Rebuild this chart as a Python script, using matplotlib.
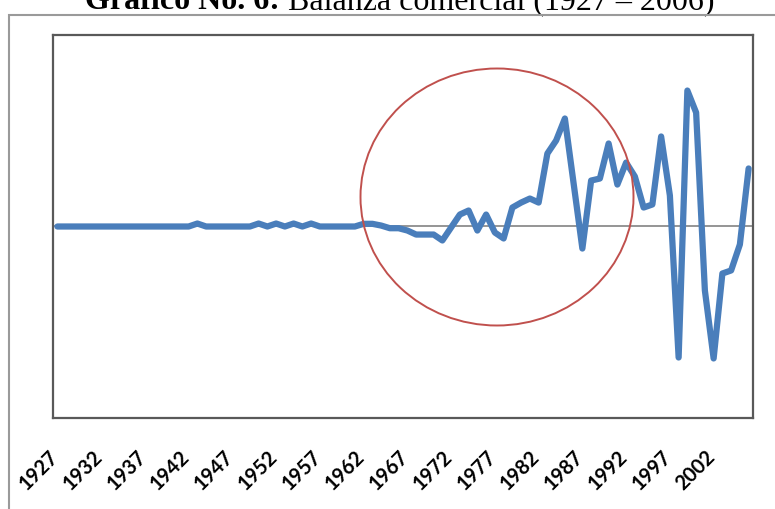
import numpy as np
import matplotlib
matplotlib.use("Agg")
import matplotlib.pyplot as plt
from matplotlib.patches import Ellipse, Rectangle
from matplotlib.transforms import ScaledTranslation

# Balanza comercial, 1927-2006 (millones)
years = list(range(1927, 2007))
balance = [
    0, 0, 0, 0, 0, 0, 0, 0, 0, 0,            # 1927-1936
    0, 0, 0, 0, 0, 0, 31, 0, 0, 0,           # 1937-1946
    0, 0, 0, 31, 0, 31, 0, 31, 0, 31,        # 1947-1956
    0, 0, 0, 0, 0, 28, 28, 10, -18, -18,     # 1957-1966
    -42, -84, -84, -84, -146, -10, 125, 167, -42, 125,   # 1967-1976
    -63, -125, 198, 250, 292, 250, 762, 898, 1128, 449,  # 1977-1986
    -230, 480, 501, 867, 438, 668, 522, 198, 230, 940,   # 1987-1996
    324, -1368, 1420, 1190, -668, -1378, -491, -459, -188, 606,  # 1997-2006
]
tick_years = years[::5]

W, H = 775, 509
fig = plt.figure(figsize=(W / 100, H / 100), dpi=100)
ax = fig.add_axes([53 / W, 1 - 418 / H, 700 / W, 383 / H])

ax.plot(years, balance, color="#4a7ebb", lw=4.5, solid_joinstyle="round",
        solid_capstyle="round", zorder=3)
ax.axhline(0, color="#8c8c8c", lw=1.3, zorder=2)

ax.set_xlim(1926.5, 2006.5)
ax.set_ylim(-2000, 2000)
ax.set_yticks([])
ax.set_xticks(tick_years)
ax.set_xticklabels([str(y) for y in tick_years], rotation=45, ha="right",
                   va="center", rotation_mode="anchor", fontweight="bold",
                   fontsize=14.5, family="Lato")
ax.tick_params(axis="x", length=0, pad=26)
shift = ScaledTranslation(-2 / 100, 0, fig.dpi_scale_trans)
for lbl in ax.get_xticklabels():
    lbl.set_transform(lbl.get_transform() + shift)
for s in ax.spines.values():
    s.set_color("#595959")
    s.set_linewidth(1.6)

# outer chart border
fig.patches.append(Rectangle((9 / W, -0.1), 1.2, 1.1 - 15 / H, transform=fig.transFigure,
                             fill=False, ec="#9a9a9a", lw=1.5))

# highlighted period
fig.patches.append(Ellipse((497 / W, 1 - 197 / H), 273 / W, 257 / H,
                           transform=fig.transFigure, fill=False,
                           ec="#c0504d", lw=1.4, zorder=5))

t1 = fig.text(85 / W, 1 - 9 / H, "Gráfico No. 6:", family="Liberation Serif",
              fontweight="bold", fontsize=23, va="baseline", ha="left")
ax.annotate(" Balanza comercial (1927 – 2006)", xy=(1, 0), xycoords=t1,
            family="Liberation Serif", fontsize=23, va="bottom", ha="left",
            annotation_clip=False)

fig.savefig("out.png", dpi=100)
